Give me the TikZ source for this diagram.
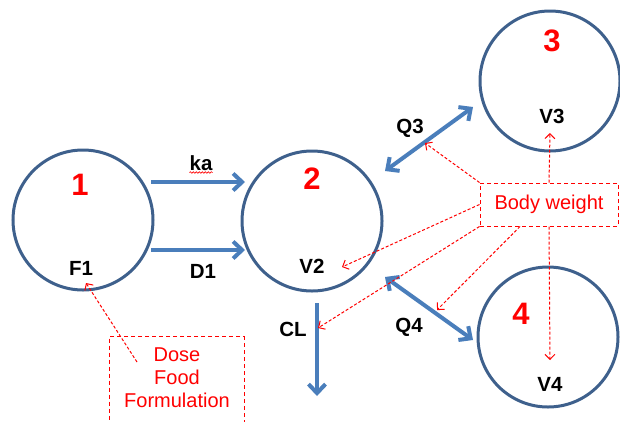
\documentclass[tikz,border=0pt]{standalone}
\usepackage{fontspec}
\setmainfont{Liberation Sans}
\usetikzlibrary{arrows.meta,decorations.pathmorphing,calc}
\definecolor{ringblue}{RGB}{62,96,140}
\definecolor{flowblue}{RGB}{74,126,187}
\definecolor{covred}{RGB}{255,0,0}
\tikzset{
  comp/.style={circle,draw=ringblue,line width=3pt,minimum size=140pt,inner sep=0pt},
  num/.style={anchor=base,text=covred,font=\fontsize{31}{34}\selectfont\bfseries,inner sep=0pt},
  lab/.style={anchor=base,font=\fontsize{20.5}{22}\selectfont\bfseries,inner sep=0pt},
  flow/.style={draw=flowblue,line width=4pt,-{Straight Barb[length=9pt,width=17pt]}},
  biflow/.style={draw=flowblue,line width=4pt,{Straight Barb[length=9pt,width=17pt]}-{Straight Barb[length=9pt,width=17pt]}},
  covbox/.style={draw=covred,dash pattern=on 4pt off 3pt,line width=1pt,text=covred,
    font=\fontsize{20}{23}\selectfont,inner sep=0pt,align=center},
  covtext/.style={text=covred,anchor=base,font=\fontsize{20}{23}\selectfont,inner sep=0pt},
  effect/.style={draw=covred,dash pattern=on 3pt off 2pt,line width=1pt,
    -{Straight Barb[length=5pt,width=10pt,line width=1pt]}},
}
\begin{document}
\begin{tikzpicture}[x=1pt,y=-1pt]
\useasboundingbox (0,0) rectangle (620,421);
\clip (0,0) rectangle (620,421);

% compartments
\node[comp] (c1) at (83,220) {};
\node[comp] (c2) at (312,221) {};
\node[comp] (c3) at (550,81) {};
\node[comp] (c4) at (548,337) {};

% compartment numbers and parameters
\node[num] (n1) at (80,195) {1};
\node[num] (n2) at (312,189) {2};
\node[num] (n3) at (552,51) {3};
\node[num] (n4) at (521,324) {4};
\node[lab] (f1) at (81,275) {F1};
\node[lab] (v2) at (312,273) {V2};
\node[lab] (v3) at (552,123) {V3};
\node[lab] (v4) at (550,391) {V4};

% absorption and dosing flows
\coordinate (kaS) at (151,182);
\coordinate (kaE) at (245,182);
\coordinate (d1S) at (151,250);
\coordinate (d1E) at (245,250);
\draw[flow] (kaS) -- (kaE);
\draw[flow] (d1S) -- (d1E);
\node[lab] (ka) at (201,170) {ka};
\draw[covred,line width=0.6pt,decorate,decoration={snake,amplitude=0.8pt,segment length=3pt}]
  ($(ka.base west)+(0,2.5)$) -- ($(ka.base east)+(0,2.5)$);
\node[lab] (d1) at (203,278) {D1};

% inter-compartmental flows
\coordinate (q3A) at (385,171);
\coordinate (q3B) at (473,107);
\coordinate (q4A) at (385,277);
\coordinate (q4B) at (473,340);
\draw[biflow] (q3A) -- (q3B);
\draw[biflow] (q4A) -- (q4B);
\node[lab] (q3) at (410,133) {Q3};
\node[lab] (q4) at (409,332) {Q4};

% elimination
\coordinate (clS) at (317,303);
\coordinate (clE) at (317,396);
\draw[flow] (clS) -- (clE);
\node[lab] (cl) at (293,336) {CL};

% covariates
\node[covbox,minimum width=138pt,minimum height=43pt] (bw) at (549,204.5) {Body weight};
\node[covbox,minimum width=135pt,minimum height=92pt,anchor=north] (dose) at (176.5,336) {};
\node[covtext] (doseT) at (177,361) {Dose};
\node[covtext] (foodT) at (177,384) {Food};
\node[covtext] (formT) at (177,407) {Formulation};

% covariate effects
\coordinate (onQ3) at (425,143);
\coordinate (onV3) at (550,133);
\coordinate (onV2) at (342,267);
\coordinate (onCL) at (318,328);
\coordinate (onQ4) at (437,310);
\coordinate (onV4) at (550,360);
\coordinate (onF1) at (86,283);
\coordinate (doseS) at (137,362);
\draw[effect] (bw.north west) -- (onQ3);
\draw[effect] (bw.north) -- (onV3);
\draw[effect] (bw.west) -- (onV2);
\draw[effect] (bw.south west) -- (onCL);
\draw[effect] ([xshift=-29pt]bw.south) -- (onQ4);
\draw[effect] (bw.south) -- (onV4);
\draw[effect] (doseS) -- (onF1);
\end{tikzpicture}
\end{document}
